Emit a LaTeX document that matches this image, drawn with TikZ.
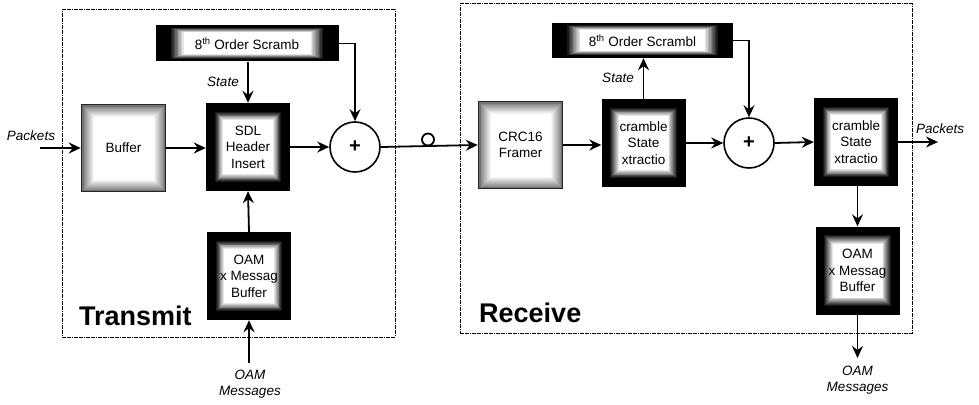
\documentclass[tikz,border=0pt]{standalone}
\usepackage{fontspec}
\setmainfont{Liberation Sans}
\usetikzlibrary{arrows.meta}
\begin{document}
\begin{tikzpicture}[x=1pt,y=-1pt,
  boxtxt/.style={font=\fontsize{13.5}{16.5}\selectfont, align=center, inner sep=0pt},
  lbl/.style={font=\fontsize{13.5}{16}\selectfont\itshape, align=center, inner sep=0pt},
  big/.style={font=\fontsize{27}{30}\selectfont\bfseries, inner sep=0pt, anchor=base west},
  conn/.style={line width=1.8pt, -{Stealth[length=12pt,width=11pt,inset=4pt]}},
  frame/.style={draw, line width=1pt, dash pattern=on 1.8pt off 0.6pt},
  darkfuzz/.style n args={4}{draw=none, fill=black, path picture={
    \foreach \k in {0,...,10}
      {\pgfmathtruncatemacro\pct{100-\k*10}
       \fill[black!\pct!white] ([shift={({#1pt+\k*#3pt},{#2pt+\k*#4pt})}]path picture bounding box.south west)
        rectangle ([shift={({-#1pt-\k*#3pt},{-#2pt-\k*#4pt})}]path picture bounding box.north east);}}},
  lightfuzz/.style={draw=black!85, line width=1.5pt, fill=black!55, path picture={
    \foreach \k in {0,...,10}
      {\pgfmathtruncatemacro\pct{45-\k*4.5}
       \fill[black!\pct!white] ([shift={({2pt+\k*1pt},{2pt+\k*1pt})}]path picture bounding box.south west)
        rectangle ([shift={({-2pt-\k*1pt},{-2pt-\k*1pt})}]path picture bounding box.north east);}}},
  sqdark/.style={boxtxt, darkfuzz={8}{8}{0.9}{0.9}, minimum width=84pt, minimum height=88pt},
  sqlight/.style={boxtxt, lightfuzz, minimum width=84pt, minimum height=87pt},
  longdark/.style={boxtxt, darkfuzz={14}{2}{1.4}{0.5}, minimum width=183pt, minimum height=36pt},
  sum/.style={circle, draw, line width=1.6pt, fill=white, minimum size=50pt, inner sep=0pt,
    font=\fontsize{20}{20}\selectfont\bfseries}
]
\useasboundingbox (0,0) rectangle (979,404);

% frames
\node[frame, minimum width=333pt, minimum height=327pt, inner sep=0pt] (txframe) at (228.5,173.5) {};
\node[frame, minimum width=452pt, minimum height=329pt, inner sep=0pt] (rxframe) at (686,168.5) {};
\node[big] (txname) at (79,325) {Transmit};
\node[big] (rxname) at (479,322) {Receive};

% transmit side
\node[longdark] (scrTx) at (247,43.5) {8\textsuperscript{th} Order Scramb};
\node[sqlight] (buf) at (123.5,148) {Buffer};
\node[sqdark] (sdl) at (248,147) {SDL\\Header\\Insert};
\node[sqdark] (oamTx) at (249,276) {OAM\\x Messag\\Buffer};
\node[sum] (addTx) at (355,147) {+};

\coordinate (pin) at (40,148);
\node[lbl] (pinlbl) at (31,136) {Packets};
\coordinate (oamin) at (249,363);
\node[lbl] (oaminlbl) at (250,384) {OAM\\Messages};
\node[lbl] (statetx) at (223,82) {State};

\draw[conn] (pin) -- (buf.west);
\draw[conn] (buf.east) -- (buf.east -| sdl.west);
\draw[conn] (scrTx.south -| sdl.north) -- (sdl.north);
\draw[conn] (sdl.east) -- (addTx.west);
\draw[conn] (scrTx.east) -| (addTx.north);
\draw[conn] (oamTx.north) -- (sdl.south);
\draw[conn] (oamin) -- (oamTx.south);

% receive side
\node[sqlight] (crc) at (520.5,145) {CRC16\\Framer};
\node[sqdark] (sse1) at (643.5,143) {cramble\\State\\xtractio};
\node[longdark, minimum width=181pt, minimum height=35pt] (scrRx) at (642.5,40.5) {8\textsuperscript{th} Order Scrambl};
\node[sum] (addRx) at (749,143) {+};
\node[sqdark] (sse2) at (856,142) {cramble\\State\\xtractio};
\node[sqdark] (oamRx) at (857.5,270.5) {OAM\\x Messag\\Buffer};

\node[lbl] (staterx) at (618,78) {State};
\coordinate (pout) at (938,142);
\node[lbl] (poutlbl) at (940,129) {Packets};
\coordinate (oamout) at (857.5,358);
\node[lbl] (oamoutlbl) at (857.5,380) {OAM\\Messages};

% link between transmit and receive, with the small ring
\draw[conn] (addTx.east) -- (crc.west);
\node[circle, draw, line width=1.8pt, minimum size=12pt, inner sep=0pt] (ring) at (428,139.5) {};

\draw[conn] (crc.east) -- (crc.east -| sse1.west);
\draw[conn] (sse1.north) -- (sse1.north |- scrRx.south);
\draw[conn] (scrRx.east) -| (addRx.north);
\draw[conn] (sse1.east) -- (addRx.west);
\draw[conn] (addRx.east) -- (sse2.west);
\draw[conn] (sse2.east) -- (pout);
\draw[conn] (sse2.south -| oamRx.north) -- (oamRx.north);
\draw[conn] (oamRx.south) -- (oamout);
\end{tikzpicture}
\end{document}
